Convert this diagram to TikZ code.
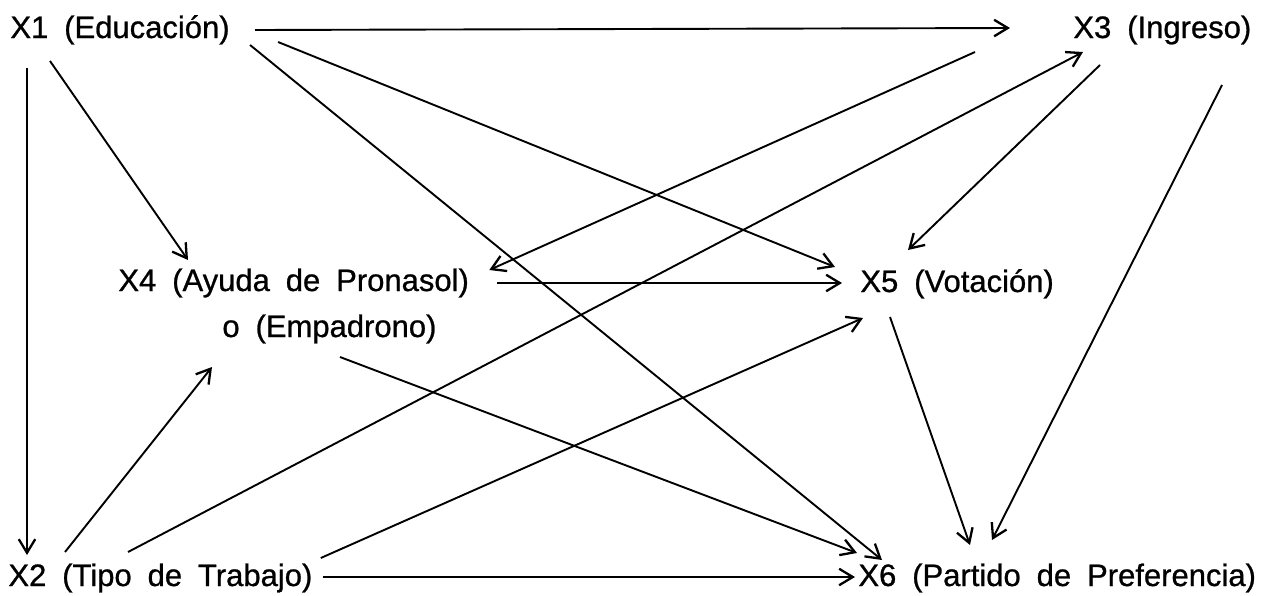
\documentclass[tikz,border=0pt]{standalone}
\usepackage{fontspec}
\setmainfont{Liberation Sans}[WordSpace=1.85, FakeBold=0.8]
\usetikzlibrary{arrows.meta}

\begin{document}
\begin{tikzpicture}[
		x=0.5pt, y=-0.5pt,
		lbl/.style={anchor=base west, inner sep=0pt, font=\fontsize{15.5}{18}\selectfont},
		arr/.style={line width=0.95pt, -{Straight Barb[length=2.4mm, width=2.9mm, line width=1.15pt]}}
		]
		\useasboundingbox[fill=white] (0,0) rectangle (1269,595);
		\node[lbl] (x1) at (10,38) {X1 (Educación)};
		\node[lbl] (x3) at (1073,38) {X3 (Ingreso)};
		\node[lbl] (x4) at (118,291) {X4 (Ayuda de Pronasol)};
		\node[lbl] (x4o) at (222,337) {o (Empadrono)};
		\node[lbl] (x5) at (860,292) {X5 (Votación)};
		\node[lbl] (x2) at (8,586) {X2 (Tipo de Trabajo)};
		\node[lbl] (x6) at (858,586) {X6 (Partido de Preferencia)};
		\foreach \a/\ax/\ay/\b/\bx/\by in {
				x1.base east/25/-8/x3.base west/-63/-10,
				x1.base west/17/30/x2.base west/19/-31,
				x1.base west/40/23/x4.base west/70/-31,
				x1.base east/48/4/x5.base west/-25/-25,
				x1.base east/20/7/x6.base west/24/-26,
				x3.base west/-98/14/x4.base east/20/-21,
				x2.base west/120/-34/x3.base west/10/14,
				x3.base west/27/27/x5.base west/48/-42,
				x4.base east/28/-8/x5.base west/-18/-9,
				x2.base east/8/-28/x5.base west/3/26,
				x5.base west/30/25/x6.base west/112/-41,
				x3.base west/149/47/x6.base west/134/-46,
				x4o.base west/118/20/x6.base west/-1/-33,
				x2.base west/57/-34/x4o.base west/-10/30,
				x2.base east/10/-9/x6.base west/-3/-9}
		\draw[arr] ([shift={(\ax,\ay)}]\a) -- ([shift={(\bx,\by)}]\b);
	\end{tikzpicture}
\end{document}
